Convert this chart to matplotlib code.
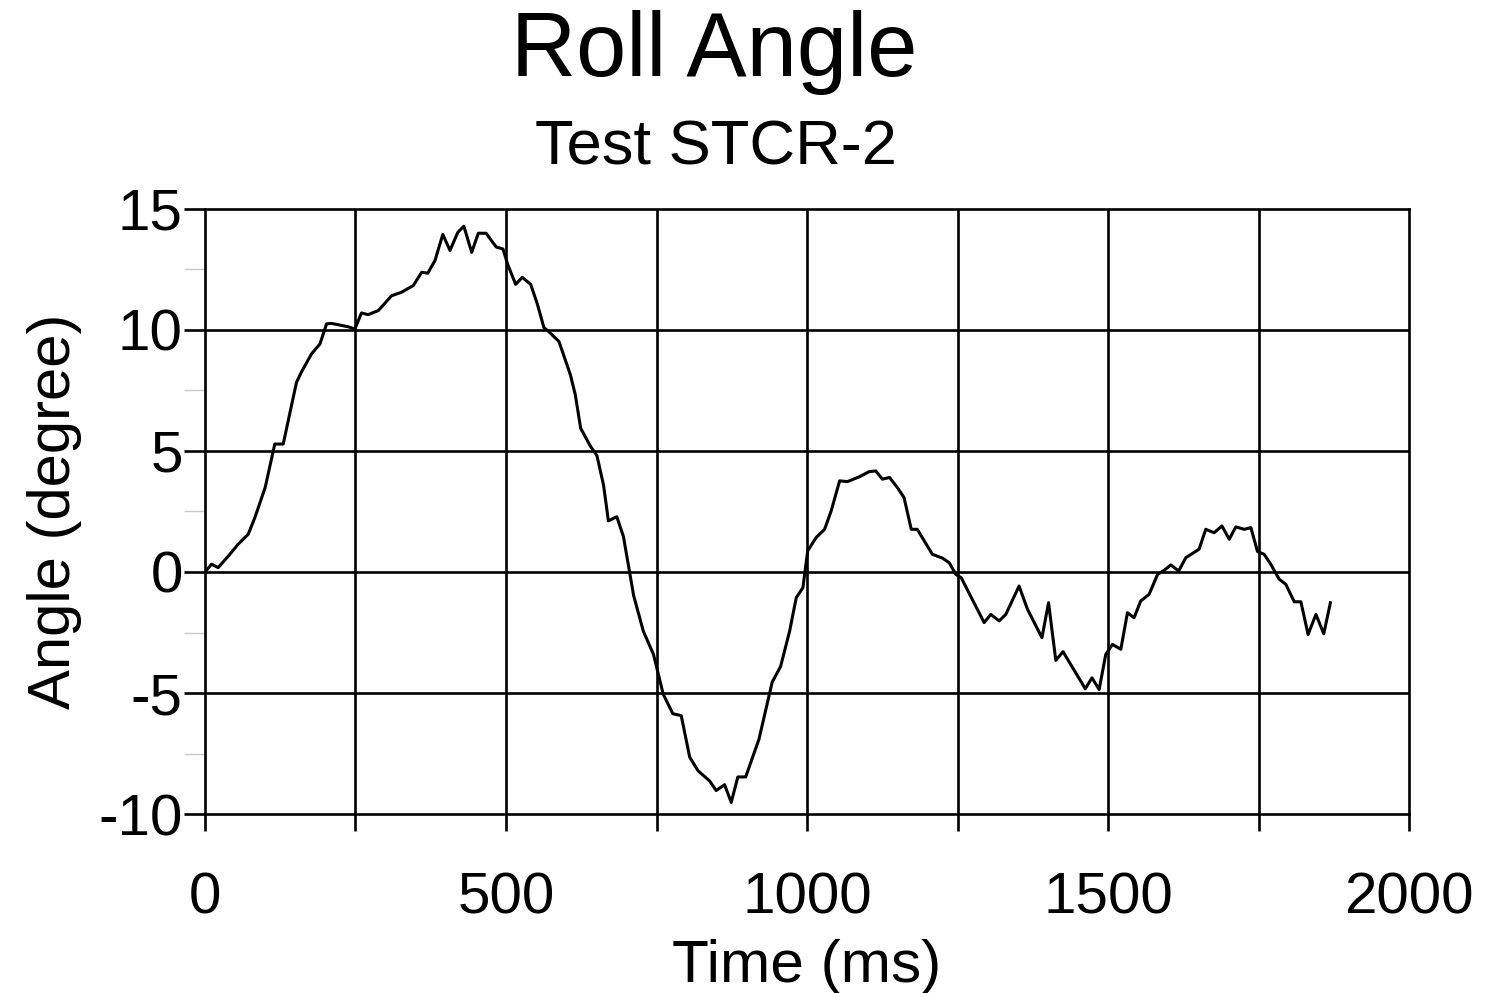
import numpy as np
import matplotlib
matplotlib.use("Agg")
import matplotlib.pyplot as plt
from matplotlib.ticker import MultipleLocator

# Roll angle trace, test STCR-2
time_ms = [
    0, 11, 22, 39, 55, 72, 83, 100, 116, 130, 152, 160, 177, 191, 202, 210,
    238, 249, 260, 271, 288, 310, 326, 346, 360, 370, 382, 395, 407, 420, 430,
    443, 454, 467, 478, 484, 495, 503, 516, 527, 541, 552, 563, 571, 588, 607,
    615, 624, 640, 651, 662, 670, 684, 695, 712, 728, 745, 761, 777, 791, 805,
    819, 838, 849, 863, 874, 885, 898, 920, 942, 956, 971, 982, 993, 1001,
    1015, 1029, 1040, 1054, 1067, 1087, 1103, 1114, 1125, 1137, 1150, 1161,
    1173, 1183, 1208, 1225, 1236, 1247, 1256, 1294, 1305, 1319, 1330, 1352,
    1366, 1390, 1401, 1413, 1425, 1462, 1473, 1485, 1496, 1507, 1521, 1532,
    1543, 1554, 1568, 1582, 1593, 1604, 1617, 1629, 1651, 1662, 1676, 1689,
    1701, 1712, 1726, 1737, 1748, 1759, 1770, 1784, 1795, 1809, 1820, 1832,
    1845, 1858, 1869,
]
angle_deg = [
    0.0, 0.32, 0.18, 0.66, 1.14, 1.56, 2.25, 3.48, 5.28, 5.28, 7.82, 8.24,
    9.0, 9.41, 10.24, 10.26, 10.12, 10.03, 10.69, 10.62, 10.79, 11.4, 11.54,
    11.82, 12.37, 12.33, 12.85, 13.93, 13.27, 14.02, 14.27, 13.19, 13.98,
    13.98, 13.6, 13.41, 13.33, 12.68, 11.87, 12.16, 11.87, 11.06, 10.08, 9.92,
    9.51, 8.13, 7.32, 5.93, 5.2, 4.8, 3.58, 2.11, 2.28, 1.46, -0.98, -2.44,
    -3.41, -5.04, -5.85, -5.93, -7.64, -8.21, -8.62, -9.02, -8.78, -9.51,
    -8.46, -8.46, -6.91, -4.55, -3.9, -2.44, -1.06, -0.65, 0.87, 1.42, 1.76,
    2.52, 3.76, 3.73, 3.93, 4.14, 4.17, 3.83, 3.9, 3.48, 3.07, 1.76, 1.76,
    0.73, 0.57, 0.38, -0.1, -0.24, -2.09, -1.75, -2.02, -1.75, -0.58, -1.54,
    -2.71, -1.27, -3.65, -3.29, -4.82, -4.37, -4.85, -3.4, -2.99, -3.19,
    -1.68, -1.89, -1.2, -0.92, -0.1, 0.07, 0.29, 0.04, 0.59, 0.94, 1.76,
    1.62, 1.9, 1.35, 1.86, 1.76, 1.83, 0.84, 0.73, 0.32, -0.3, -0.51, -1.23,
    -1.23, -2.58, -1.75, -2.55, -1.27,
]

x_ticks = [0, 500, 1000, 1500, 2000]
y_ticks = [-10, -5, 0, 5, 10, 15]

plt.rcParams["font.family"] = ["Liberation Sans", "DejaVu Sans"]
plt.rcParams["axes.unicode_minus"] = False

fig = plt.figure(figsize=(14.85, 9.93), dpi=100)
ax = fig.add_axes([0.138, 0.180, 0.811, 0.610])

ax.plot(time_ms, angle_deg, color="black", lw=2.2, zorder=3)

ax.set_xlim(0, 2000)
ax.set_ylim(-10, 15)
ax.set_xticks(x_ticks)
ax.set_yticks(y_ticks)
ax.xaxis.set_minor_locator(MultipleLocator(250))
ax.yaxis.set_minor_locator(MultipleLocator(2.5))

# grid every 250 ms and every 5 degrees
for t in np.arange(250, 2000, 250):
    ax.axvline(t, color="black", lw=1.9, zorder=1)
for a in np.arange(-5, 15, 5):
    ax.axhline(a, color="black", lw=1.9, zorder=1)

for s in ax.spines.values():
    s.set_linewidth(1.9)

ax.tick_params(axis="x", which="major", direction="out", length=12,
               width=1.9, labelsize=42, pad=29)
ax.tick_params(axis="y", which="major", direction="out", length=15,
               width=1.9, labelsize=42, pad=1)
ax.tick_params(axis="x", which="minor", direction="out", length=12, width=1.9)
ax.tick_params(axis="y", which="minor", direction="out", length=15,
               width=1.0, color="#c8c8c8")

ax.set_xlabel("Time (ms)", fontsize=43.5, labelpad=10)
ax.set_ylabel("Angle (degree)", fontsize=43, labelpad=12)

fig.text(0.481, 0.947, "Roll Angle", ha="center", va="center", fontsize=65)
fig.text(0.482, 0.851, "Test STCR-2", ha="center", va="center", fontsize=45.5)

fig.savefig("out.png", dpi=100)
